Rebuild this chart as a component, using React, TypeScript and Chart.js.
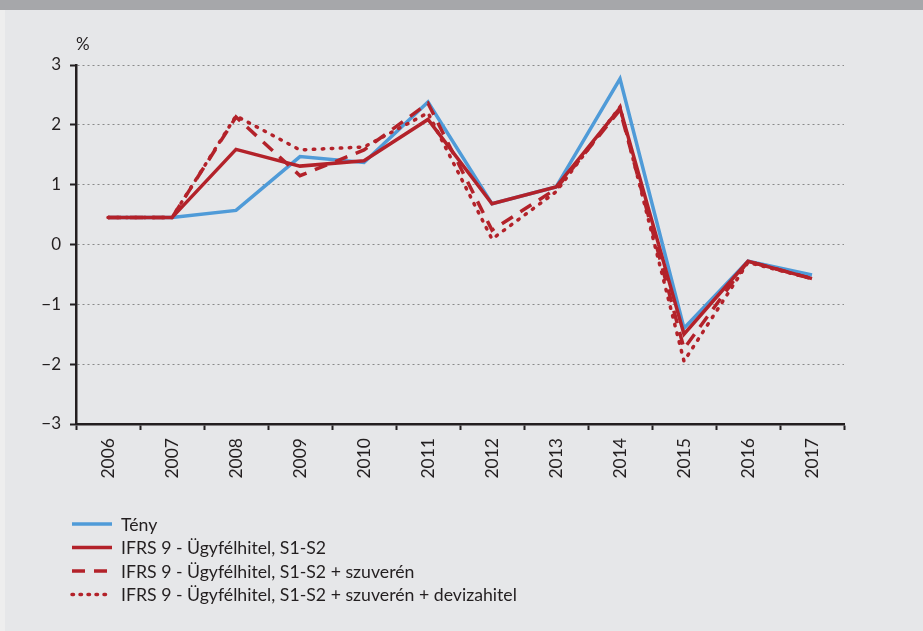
import React, { useEffect, useRef } from "react";
import { Chart, registerables } from "chart.js";

Chart.register(...registerables);

const years = ["2006", "2007", "2008", "2009", "2010", "2011", "2012", "2013", "2014", "2015", "2016", "2017"];
const teny = [0.45, 0.45, 0.57, 1.47, 1.37, 2.38, 0.68, 0.96, 2.77, -1.40, -0.28, -0.51];
const s1s2 = [0.45, 0.45, 1.59, 1.31, 1.40, 2.09, 0.68, 0.96, 2.28, -1.50, -0.28, -0.57];
const szuveren = [0.45, 0.45, 2.13, 1.15, 1.58, 2.36, 0.24, 0.93, 2.25, -1.74, -0.28, -0.57];
const devizahitel = [0.45, 0.45, 2.15, 1.58, 1.63, 2.20, 0.09, 0.88, 2.30, -1.95, -0.30, -0.57];
const seriesLabels = [
  "Tény",
  "IFRS 9 - Ügyfélhitel, S1-S2",
  "IFRS 9 - Ügyfélhitel, S1-S2 + szuverén",
  "IFRS 9 - Ügyfélhitel, S1-S2 + szuverén + devizahitel",
];
const yTicks = [-3, -2, -1, 0, 1, 2, 3];

const FONT = "Lato, 'Open Sans', sans-serif";
const TEXT = "#231f20";
const BLUE = "#4f9bd8";
const RED = "#b3222a";

const legendPlugin = {
  id: "customLegend",
  afterDraw(chart: any) {
    const ctx = chart.ctx;
    const { left, top, bottom } = chart.chartArea;
    ctx.save();
    ctx.font = `17px ${FONT}`;
    ctx.fillStyle = TEXT;
    ctx.textBaseline = "middle";
    ctx.textAlign = "left";
    ctx.fillText("%", left, top - 20);
    ctx.font = `17.7px ${FONT}`;
    chart.data.datasets.forEach((ds: any, i: number) => {
      const y = bottom + 100 + i * 23.5;
      ctx.beginPath();
      ctx.setLineDash(ds.legendDash || []);
      ctx.lineCap = ds.borderCapStyle || "butt";
      ctx.lineWidth = ds.borderWidth;
      ctx.strokeStyle = ds.borderColor;
      ctx.moveTo(left - 4, y);
      ctx.lineTo(left + 36, y);
      ctx.stroke();
      ctx.setLineDash([]);
      ctx.fillStyle = TEXT;
      ctx.fillText(ds.label, left + 45, y + 1);
    });
    ctx.restore();
  },
};

export default function App() {
  const ref = useRef<HTMLCanvasElement | null>(null);
  useEffect(() => {
    if (!ref.current) return;
    const chart = new Chart(ref.current, {
      type: "line",
      data: {
        labels: years,
        datasets: [
          {
            label: seriesLabels[0],
            data: teny,
            borderColor: BLUE,
            borderWidth: 3.5,
            pointRadius: 0,
            tension: 0,
            order: 4,
          },
          {
            label: seriesLabels[1],
            data: s1s2,
            borderColor: RED,
            borderWidth: 3.5,
            pointRadius: 0,
            tension: 0,
            order: 3,
          },
          {
            label: seriesLabels[2],
            data: szuveren,
            borderColor: RED,
            borderWidth: 3.5,
            borderDash: [13, 9],
            legendDash: [13, 9],
            pointRadius: 0,
            tension: 0,
            order: 2,
          },
          {
            label: seriesLabels[3],
            data: devizahitel,
            borderColor: RED,
            borderWidth: 3.5,
            borderDash: [1.5, 7.5],
            legendDash: [1.5, 6.5],
            borderCapStyle: "round",
            pointRadius: 0,
            tension: 0,
            order: 1,
          },
        ] as any,
      },
      options: {
        animation: false,
        responsive: false,
        maintainAspectRatio: false,
        layout: { padding: { top: 65, left: 40, right: 79, bottom: 147 } },
        plugins: { legend: { display: false }, tooltip: { enabled: false } },
        scales: {
          x: {
            offset: true,
            grid: {
              offset: true,
              drawOnChartArea: false,
              tickLength: 6,
              tickColor: "#231f20",
              tickWidth: 2,
            },
            border: { color: "#231f20", width: 2.5 },
            ticks: {
              autoSkip: false,
              minRotation: 90,
              maxRotation: 90,
              padding: 8,
              color: TEXT,
              font: { family: FONT, size: 17.5 },
            },
            afterFit(scale: any) {
              scale.height = 60;
            },
          },
          y: {
            min: -3,
            max: 3,
            afterBuildTicks(scale: any) {
              scale.ticks = yTicks.map((v) => ({ value: v }));
            },
            grid: {
              color: "#8a8a8a",
              lineWidth: 1,
              tickLength: 6,
              tickColor: "#231f20",
              tickWidth: 2,
            },
            border: { color: "#231f20", width: 2.5, dash: [2, 3] },
            ticks: {
              padding: 9,
              color: TEXT,
              font: { family: FONT, size: 17 },
              callback: (v: any) => (Number(v) < 0 ? "\u2212" + Math.abs(Number(v)) : String(v)),
            },
            afterFit(scale: any) {
              scale.width = 36;
            },
          },
        },
      },
      plugins: [legendPlugin],
    });
    return () => chart.destroy();
  }, []);

  return (
    <div
      style={{
        position: "absolute",
        left: 0,
        top: 0,
        width: 923,
        height: 631,
        background: "#e6e7e9",
        overflow: "hidden",
      }}
    >
      <div style={{ position: "absolute", left: 0, top: 0, width: 923, height: 10, background: "#a6a7aa" }} />
      <div style={{ position: "absolute", left: 0, top: 10, width: 5, height: 621, background: "#eeeeee" }} />
      <canvas ref={ref} width={923} height={631} style={{ position: "absolute", left: 0, top: 0 }} />
    </div>
  );
}
